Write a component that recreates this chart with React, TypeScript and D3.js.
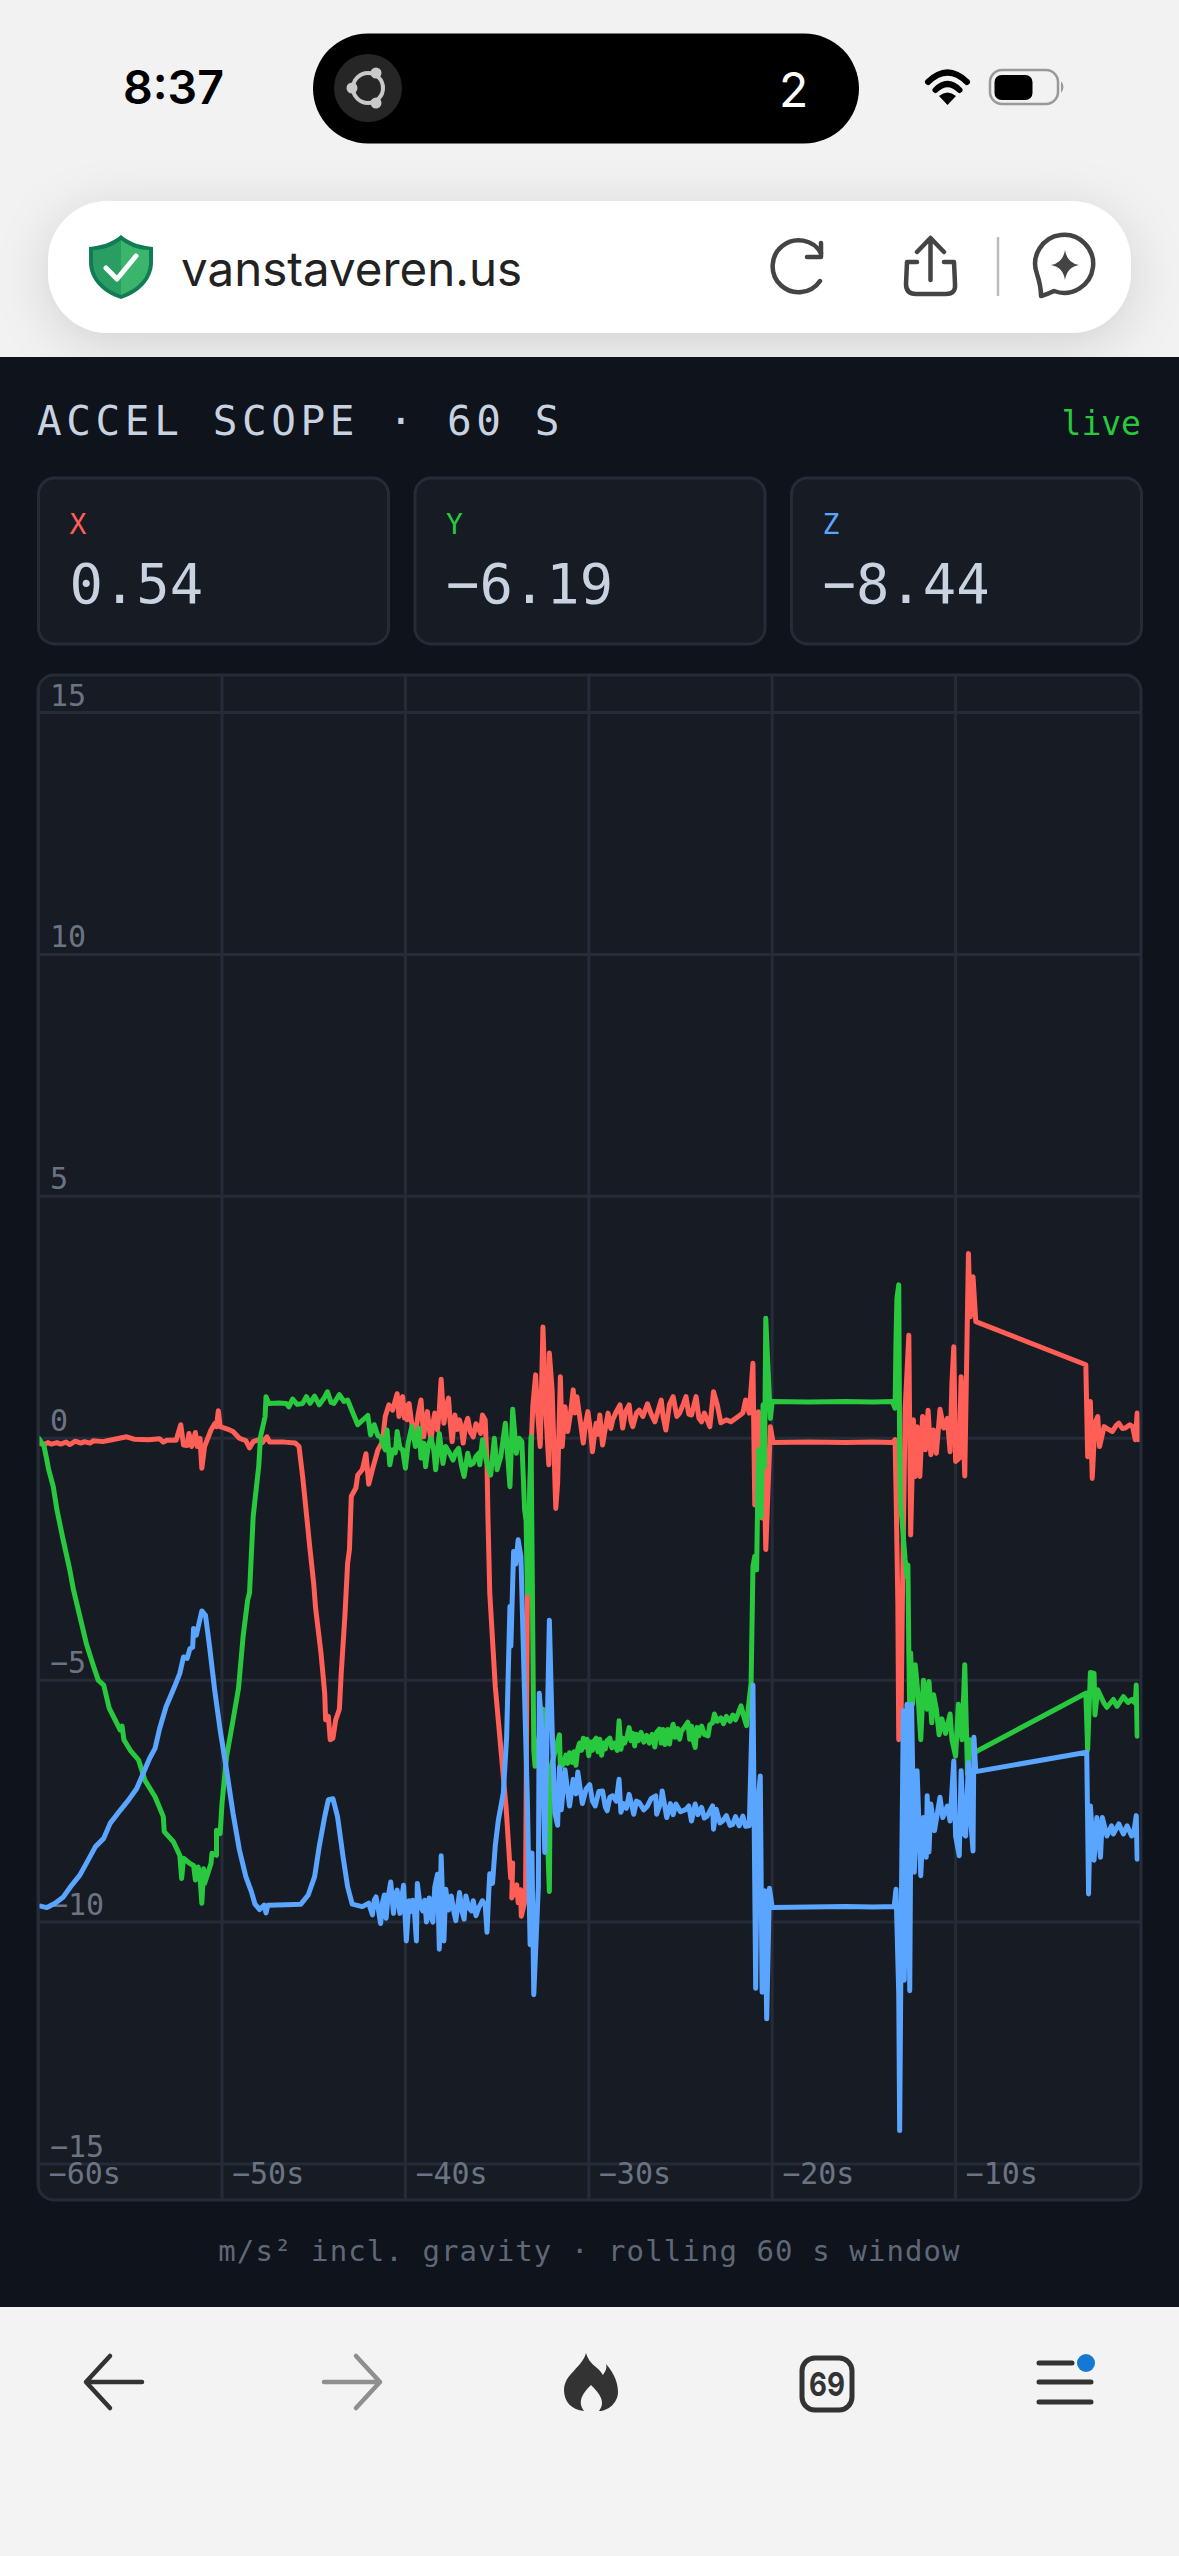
import * as React from 'react';
import * as d3 from 'd3';

type Sample = [number, number];

const yTicks = [15, 10, 5, 0, -5, -10, -15];
const xTicks = [-60, -50, -40, -30, -20, -10];
const readouts = [
  { axis: 'X', value: '0.54' },
  { axis: 'Y', value: '\u22126.19' },
  { axis: 'Z', value: '\u22128.44' },
];

// [seconds, m/s2]
const accelX: Sample[] = [
  [-60, -0.1], [-59.7, -0.13], [-59.5, -0.09], [-59.3, -0.12], [-59, -0.09], [-58.8, -0.12], [-58.5, -0.08], [-58.3, -0.13], [-58, -0.06], [-57.7, -0.1], [-57.5, -0.07], [-57.2, -0.1], [-57, -0.05], [-56.5, -0.07], [-56, -0.03], [-55.2, 0.03], [-54.8, -0.02], [-54, -0.03], [-53.4, -0.01], [-53.2, -0.08], [-53, -0.04], [-52.5, -0.04],
  [-52.25, 0.28], [-52.1, -0.14], [-51.9, -0.15], [-51.8, 0.1], [-51.65, -0.17], [-51.45, 0.12], [-51.35, -0.17], [-51.2, 0], [-51.1, -0.62], [-50.95, -0.17], [-50.6, 0.17], [-50.4, 0.3], [-50.3, 0.24], [-50.2, 0.57], [-50.1, 0.24],
  [-49.7, 0.19], [-49.4, 0.14], [-49.05, 0], [-48.7, -0.05], [-48.5, -0.2], [-48.3, -0.07], [-48, -0.03], [-47.8, -0.09], [-47.55, 0.03], [-47.4, -0.08], [-46.6, -0.08], [-46, -0.1], [-45.8, -0.17],
  [-45.6, -0.8], [-45.4, -1.55], [-45.2, -2.3], [-45, -3], [-44.9, -3.5], [-44.6, -4.45], [-44.4, -5.27], [-44.35, -5.82], [-44.2, -5.75], [-44.1, -6.23], [-43.95, -6.2], [-43.8, -5.82], [-43.6, -5.6], [-43.5, -4.86], [-43.3, -3.68], [-43.15, -2.58], [-43.05, -2.3], [-42.95, -1.2],
  [-42.7, -1.03], [-42.6, -0.76], [-42.35, -0.65], [-42.15, -0.32], [-42, -0.95], [-41.8, -0.65], [-41.5, -0.24], [-41.25, -0.07], [-41.1, 0.45], [-40.9, 0.69], [-40.7, 0.58], [-40.45, 0.92], [-40.35, 0.45], [-40.25, 0.78], [-40.15, 0.86], [-40.05, 0.42], [-39.95, 0.68], [-39.9, 0.38],
  [-39.8, 0.72], [-39.65, 0.3], [-39.5, -0.03], [-39.3, 0.5], [-39.15, 0.79], [-39, 0.03], [-38.9, 0.38], [-38.8, 0.55], [-38.7, 0.2], [-38.6, -0.03], [-38.5, 0.3], [-38.4, 0.52], [-38.25, 0.17], [-38.15, 0.6], [-38.05, 1.22], [-37.9, 0.31], [-37.8, 0.6], [-37.65, 0.83], [-37.55, 0.3], [-37.45, -0.07], [-37.3, 0.48], [-37.18, 0.18], [-37.05, 0.38], [-36.95, 0.22], [-36.85, -0.1], [-36.7, 0.3], [-36.6, 0.41], [-36.45, 0.12], [-36.3, 0.03], [-36.15, 0.3], [-36.05, 0.24], [-35.9, 0.1], [-35.8, 0.48], [-35.65, 0.38],
  [-35.55, -0.52], [-35.5, -1.62], [-35.4, -3.2], [-35.1, -5.13], [-34.75, -6.61], [-34.5, -7.68], [-34.26, -9.09], [-34.15, -8.78], [-34.2, -9.5], [-33.93, -9.23], [-33.85, -9.6], [-33.72, -9.33], [-33.68, -9.88], [-33.45, -9.5], [-33.35, -3.34], [-33.15, -0.24],
  [-33.05, 0.69], [-32.9, 1.31], [-32.8, 0.58], [-32.65, -0.17], [-32.5, 2.3], [-32.35, 0.58], [-32.18, -0.55], [-32.15, 1.76], [-32, 1], [-31.8, -1.45], [-31.7, -0.93], [-31.55, 1.27], [-31.45, -0.17], [-31.3, 0.65], [-31.15, 0.14], [-31, 0.5], [-30.85, 1], [-30.75, 0.52], [-30.65, 0.86], [-30.5, 0.45], [-30.4, 0.18], [-30.3, -0.1], [-30.18, 0.3], [-30.05, 0.55], [-29.9, 0.12], [-29.8, -0.28], [-29.7, 0.05], [-29.6, 0.31], [-29.5, 0.08], [-29.4, 0.48], [-29.25, -0.14], [-29.1, 0.2],
  [-28.95, 0.52], [-28.8, 0.2], [-28.7, 0.38], [-28.5, 0.55], [-28.3, 0.69], [-28.15, 0.21], [-28, 0.55], [-27.8, 0.69], [-27.7, 0.35], [-27.6, 0.24], [-27.4, 0.52], [-27.25, 0.58], [-27.05, 0.45], [-26.8, 0.71], [-26.6, 0.5], [-26.4, 0.34], [-26.2, 0.6], [-26.05, 0.79], [-25.95, 0.45], [-25.8, 0.17], [-25.6, 0.7], [-25.4, 0.86], [-25.2, 0.45], [-25.05, 0.52], [-24.85, 0.7], [-24.7, 0.86], [-24.55, 0.5], [-24.4, 0.48], [-24.15, 0.86], [-24, 0.42], [-23.85, 0.34], [-23.7, 0.52], [-23.55, 0.38], [-23.4, 0.24], [-23.2, 0.96], [-23, 0.7], [-22.8, 0.32], [-22.5, 0.38], [-22.25, 0.34], [-22, 0.41], [-21.6, 0.52], [-21.45, 0.79], [-21.25, 0.52],
  [-21.05, 1.55], [-20.95, -1.38], [-20.75, 0.55], [-20.55, -1.65], [-20.45, -0.38], [-20.35, -2.3], [-20.1, 0.24], [-19.95, -0.09], [-18, -0.08], [-16, -0.09], [-14.5, -0.08], [-13.45, -0.09], [-13.3, -0.03],
  [-13.23, -1.48], [-13.15, -3.4], [-13.1, -6.23], [-13.02, -3.3], [-12.98, -6], [-12.9, -3.34], [-12.75, 0.62], [-12.55, 2.13], [-12.45, -2], [-12.3, 0.38], [-12.2, -0.79], [-12.1, 0.24], [-11.95, -0.79], [-11.8, 0.45], [-11.65, -0.24], [-11.5, 0.58], [-11.35, -0.34], [-11.2, 0.17], [-11.05, -0.31], [-10.85, 0.6], [-10.65, 0.21], [-10.45, 0.41], [-10.3, -0.28], [-10.2, 1.14], [-10.1, 1.89], [-10, -0.48], [-9.8, -0.41], [-9.7, 1.27], [-9.5, -0.78], [-9.3, 3.82], [-9.2, 2.51], [-9.05, 3.34], [-8.9, 2.41],
  [-2.9, 1.52], [-2.8, -0.38], [-2.65, 0.76], [-2.55, -0.83], [-2.4, 0.31], [-2.25, 0.45], [-2.15, -0.17], [-1.9, 0.24], [-1.65, 0.18], [-1.45, 0.14], [-1.25, 0.26], [-1.1, 0.31], [-0.9, 0.2], [-0.75, 0.21], [-0.5, 0.28], [-0.35, 0.24], [-0.2, -0.03], [-0.1, 0.52], [-0.05, -0.03],
];

const accelY: Sample[] = [
  [-60, 0], [-59.7, -0.17], [-59.55, -0.45], [-59.45, -0.65], [-59.2, -1], [-59, -1.48], [-58.7, -2.03], [-58.3, -2.72], [-58.1, -3.13], [-57.75, -3.68], [-57.4, -4.24], [-57, -4.72], [-56.75, -5], [-56.45, -5.1], [-56.15, -5.58], [-55.55, -6.03], [-55.45, -5.95], [-55.35, -6.23], [-55, -6.45], [-54.55, -6.65], [-54.2, -7.07], [-53.65, -7.41], [-53.2, -7.82], [-53.15, -8.13], [-52.65, -8.34], [-52.3, -8.62], [-52.2, -9.1], [-52.1, -8.68],
  [-51.75, -8.79], [-51.55, -8.83], [-51.45, -9.13], [-51.3, -8.86], [-51.2, -9.07], [-51.1, -9.61], [-51, -8.9], [-50.95, -9.2], [-50.6, -8.79], [-50.55, -8.58], [-50.3, -8.62], [-50.3, -8.1], [-50.1, -8.17], [-50, -7.55], [-49.75, -6.58], [-49.4, -5.83], [-49.1, -5.17], [-48.85, -4.1], [-48.6, -3.34], [-48.5, -3.2], [-48.3, -1.62], [-48.2, -1.27], [-48, -0.59], [-47.9, 0.03], [-47.65, 0.45], [-47.6, 0.86], [-47.45, 0.72],
  [-46.9, 0.73], [-46.5, 0.72], [-46.35, 0.65], [-46.15, 0.81], [-45.9, 0.7], [-45.6, 0.72], [-45.4, 0.86], [-45.2, 0.72], [-44.95, 0.87], [-44.7, 0.69], [-44.45, 0.82], [-44.25, 0.96], [-44.05, 0.74], [-43.9, 0.72], [-43.6, 0.9], [-43.35, 0.76], [-43.15, 0.79], [-42.6, 0.28], [-42.05, 0.47], [-41.9, 0.07], [-41.7, 0.28], [-41.5, 0.05], [-41.35, 0.03], [-41.2, -0.15], [-41.1, -0.24], [-41, 0.17], [-40.85, -0.55], [-40.7, -0.24], [-40.55, -0.3], [-40.45, 0.14], [-40.3, -0.2], [-40.15, -0.24], [-40, -0.62], [-39.85, -0.1],
  [-39.65, 0.24], [-39.45, -0.17], [-39.25, 0.21], [-39.15, -0.41], [-39, -0.1], [-38.9, -0.59], [-38.75, -0.15], [-38.6, 0], [-38.45, -0.25], [-38.35, -0.65], [-38.15, 0.1], [-37.95, -0.52], [-37.8, -0.17], [-37.6, -0.3], [-37.4, -0.45], [-37.25, -0.28], [-37.1, -0.21], [-36.95, -0.55], [-36.8, -0.79], [-36.6, -0.31], [-36.45, -0.55], [-36.3, -0.52], [-36.15, -0.38], [-36, -0.31], [-35.95, -0.55], [-35.8, -0.03], [-35.6, -0.45], [-35.35, -0.76], [-35.15, 0], [-35, -0.65], [-34.8, -0.38], [-34.55, 0.31], [-34.3, -1], [-34.15, 0.6], [-33.95, -0.31], [-33.8, 0], [-33.65, -0.07], [-33.5, -1.48], [-33.42, -1.7], [-33.35, -3.2], [-33.15, 0.03],
  [-33, -6.44], [-32.93, -6.78], [-32.5, -5.6], [-32.15, -9.37], [-32.1, -6.85], [-31.6, -6.13], [-31.55, -6.8],
  [-31.4, -6.74], [-31.25, -6.55], [-31.15, -6.72], [-31.05, -6.5], [-30.9, -6.7], [-30.8, -6.48], [-30.7, -6.76], [-30.6, -6.42], [-30.5, -6.3], [-30.4, -6.45], [-30.3, -6.2], [-30.2, -6.38], [-30.1, -6.22], [-30, -6.56], [-29.9, -6.28], [-29.8, -6.45], [-29.7, -6.25], [-29.6, -6.2], [-29.5, -6.48], [-29.4, -6.22], [-29.3, -6.55], [-29.2, -6.3], [-29.1, -6.42], [-29, -6.25], [-28.85, -6.2], [-28.75, -6.4], [-28.6, -6.3], [-28.45, -6.45], [-28.35, -5.84], [-28.25, -6.43], [-28.15, -6.2], [-28.05, -6.3], [-27.9, -6.15], [-27.8, -5.98], [-27.7, -6.25], [-27.6, -6.1], [-27.5, -6.36], [-27.4, -6.12], [-27.3, -6.25], [-27.15, -6.08], [-27, -6.28], [-26.85, -6.14], [-26.7, -6.3], [-26.55, -6.12], [-26.4, -6.38], [-26.3, -6.08], [-26.15, -6.01], [-26.05, -6.3], [-25.95, -6.02], [-25.85, -6.33], [-25.7, -6.02], [-25.6, -6.32], [-25.5, -6.05], [-25.4, -5.91], [-25.3, -6.18], [-25.15, -6], [-25.05, -6.22], [-24.95, -6.05], [-24.8, -5.98], [-24.6, -5.87], [-24.5, -6.22], [-24.4, -5.95], [-24.3, -6.25], [-24.2, -6.39], [-24.1, -5.98], [-24, -6.15], [-23.85, -5.95], [-23.7, -6.12], [-23.5, -6.15], [-23.4, -5.92], [-23.25, -5.88], [-23.15, -5.7], [-23, -5.85], [-22.8, -5.78], [-22.65, -5.9], [-22.5, -5.75], [-22.3, -5.85], [-22.15, -5.72], [-22, -5.82], [-21.85, -5.68], [-21.7, -5.53], [-21.55, -5.75], [-21.4, -5.94], [-21.3, -5.56],
  [-21.15, -5.06], [-21.05, -2.65], [-20.95, -2.44], [-20.85, -2.72], [-20.75, -0.24], [-20.6, -1.62], [-20.5, 0.69], [-20.42, -0.59], [-20.35, 2.48], [-20.25, 1.62], [-20.1, 0.41], [-20, 0.76], [-18, 0.75], [-16, 0.76], [-14.5, 0.75], [-13.45, 0.76], [-13.3, 0.62],
  [-13.25, 2.03], [-13.2, 2.89], [-13.1, 3.17], [-13.05, -0.24], [-13, -1.34], [-12.75, -2.51], [-12.65, -2.86], [-12.6, -2.62], [-12.55, -4.44], [-12.5, -5.68], [-12.45, -4.44], [-12.35, -5.5], [-12.2, -4.68], [-12.05, -5.3], [-11.9, -6.23], [-11.75, -5], [-11.55, -5.6], [-11.45, -5.03], [-11.3, -5.88], [-11.2, -5.3], [-11.05, -5.6], [-10.9, -6.13], [-10.75, -5.8], [-10.55, -6.1], [-10.3, -5.7], [-10.2, -6.23], [-10, -6.57], [-9.85, -5.5], [-9.65, -6.23], [-9.5, -4.68], [-9.35, -6.95], [-9.2, -6.23], [-9.1, -6.3], [-9, -6.5],
  [-2.9, -5.27], [-2.8, -6.44], [-2.65, -4.84], [-2.45, -4.86], [-2.4, -5.72], [-2.25, -5.2], [-1.9, -5.48], [-1.75, -5.56], [-1.4, -5.4], [-1.2, -5.54], [-0.85, -5.34], [-0.6, -5.46], [-0.4, -5.4], [-0.2, -5.48], [-0.15, -5.1], [-0.1, -6.16],
];

const accelZ: Sample[] = [
  [-59.9, -9.67], [-59.55, -9.7], [-59.1, -9.61], [-58.65, -9.48], [-58.2, -9.24], [-57.75, -9.03], [-57.3, -8.72], [-56.9, -8.44], [-56.45, -8.27], [-56.1, -7.96], [-55.55, -7.69], [-55.1, -7.48], [-54.65, -7.24], [-54.3, -6.93], [-53.95, -6.62], [-53.65, -6.41], [-53.4, -6], [-53.05, -5.55], [-52.55, -5.1], [-52.3, -4.86], [-52.1, -4.52], [-51.9, -4.55], [-51.75, -4.35], [-51.6, -4.32], [-51.55, -3.93], [-51.4, -4.07], [-51.3, -3.9], [-51.1, -3.57], [-50.9, -3.66], [-50.7, -4.24], [-50.4, -5.2], [-50.1, -6.03], [-49.75, -6.86], [-49.4, -7.75], [-49.05, -8.51], [-48.7, -9.06], [-48.4, -9.37], [-48.2, -9.63], [-47.95, -9.74], [-47.7, -9.65], [-47.6, -9.81], [-47.5, -9.65], [-46.5, -9.64], [-45.7, -9.63], [-45.3, -9.44], [-44.95, -9.06], [-44.7, -8.44], [-44.4, -7.82], [-44.2, -7.47], [-43.95, -7.45], [-43.7, -7.82], [-43.4, -8.65], [-43.15, -9.27], [-42.9, -9.63], [-42.35, -9.68], [-42, -9.61],
  [-41.8, -9.85], [-41.7, -9.55], [-41.6, -9.48], [-41.45, -9.8], [-41.35, -10.03], [-41.25, -9.6], [-41.15, -9.44], [-41.05, -9.92], [-40.95, -9.5], [-40.8, -9.17], [-40.65, -9.82], [-40.55, -9.45], [-40.45, -9.34], [-40.3, -9.82], [-40.2, -9.5], [-40.1, -9.24], [-39.95, -10.39], [-39.8, -9.56], [-39.7, -9.78], [-39.6, -9.55], [-39.5, -9.82], [-39.4, -10.39], [-39.35, -9.2], [-39.2, -9.65], [-39.05, -9.77], [-38.95, -9.55], [-38.85, -10], [-38.7, -9.5], [-38.6, -9.9], [-38.5, -10], [-38.4, -9.28], [-38.25, -9.01], [-38.15, -10.56], [-38.05, -8.63], [-37.9, -10.39], [-37.8, -9.32], [-37.65, -9.75], [-37.5, -9.46], [-37.35, -9.8], [-37.25, -9.97], [-37.05, -9.39], [-36.9, -9.8], [-36.8, -9.94], [-36.7, -9.46], [-36.55, -9.7], [-36.4, -9.77], [-36.3, -9.56], [-36.15, -9.87], [-36, -9.7], [-35.8, -9.56], [-35.65, -9.65], [-35.55, -10.21], [-35.45, -9.35], [-35.4, -9], [-35.25, -9.2], [-35.1, -8.42],
  [-34.93, -7.89], [-34.66, -7.33], [-34.48, -6.17], [-34.3, -3.48], [-34.25, -4.3], [-34.1, -2.34], [-33.98, -2.6], [-33.85, -2.1], [-33.7, -2.45], [-33.5, -5.34], [-33.35, -7.47], [-33.2, -10.47], [-33.1, -8.57], [-33, -11.5], [-32.75, -9.26], [-32.7, -5.27], [-32.55, -6.03], [-32.4, -8.56], [-32.15, -3.76], [-32, -6], [-31.85, -7.75], [-31.7, -8], [-31.6, -6.8], [-31.5, -7.68], [-31.3, -6.85], [-31.15, -7.3], [-31.05, -7.6], [-30.85, -7.05], [-30.7, -7.35], [-30.6, -6.9], [-30.45, -7.3], [-30.35, -7.55], [-30.15, -7.25], [-29.95, -7.16], [-29.8, -7.5], [-29.65, -7.6], [-29.45, -7.3], [-29.25, -7.29], [-29.1, -7.62], [-29, -7.7], [-28.85, -7.42], [-28.7, -7.39], [-28.5, -7.5], [-28.35, -7.05], [-28.25, -7.73], [-28.1, -7.55], [-27.95, -7.65], [-27.8, -7.36], [-27.65, -7.6], [-27.55, -7.77], [-27.4, -7.5], [-27.25, -7.53], [-27, -7.68], [-26.8, -7.6], [-26.6, -7.45], [-26.35, -7.39], [-26.3, -7.77], [-26.05, -7.5], [-26, -7.29], [-25.75, -7.84], [-25.55, -7.55], [-25.4, -7.78], [-25.25, -7.56], [-25, -7.72], [-24.7, -7.67], [-24.55, -7.6], [-24.4, -7.91], [-24.2, -7.56], [-24.05, -7.78], [-23.85, -7.63], [-23.7, -7.85], [-23.55, -7.81], [-23.25, -7.6], [-23.2, -8.08], [-23.05, -7.67], [-22.85, -7.95], [-22.7, -7.91], [-22.5, -7.8], [-22.3, -8], [-22.15, -7.98], [-22, -7.82], [-21.8, -8.01], [-21.6, -7.81], [-21.45, -8.02], [-21.25, -8.01],
  [-21.05, -5.1], [-20.9, -11.37], [-20.8, -7.63], [-20.65, -6.98], [-20.55, -11.45], [-20.4, -9.35], [-20.3, -12], [-20.15, -9.3], [-20, -9.7], [-18, -9.69], [-16, -9.68], [-14.5, -9.69], [-13.35, -9.68], [-13.25, -9.32],
  [-13.1, -11.49], [-13.05, -14.31], [-12.95, -9.35], [-12.85, -5.63], [-12.8, -11.2], [-12.7, -9.1], [-12.65, -5.5], [-12.5, -11.42], [-12.4, -5.5], [-12.25, -8.97], [-12.1, -6.87], [-11.9, -9.04], [-11.75, -7.84], [-11.6, -8.66], [-11.55, -7.39], [-11.45, -8.55], [-11.35, -7.56], [-11.15, -8.11], [-10.85, -7.42], [-10.7, -7.84], [-10.45, -7.6], [-10.3, -7.91], [-10.1, -6.67], [-10, -8.22], [-9.8, -8.63], [-9.7, -6.87], [-9.55, -8.18], [-9.45, -8.22], [-9.3, -6.7], [-9.2, -7.76], [-9.05, -8.53], [-9, -6.18], [-8.9, -6.89],
  [-2.85, -6.49], [-2.75, -9.42], [-2.65, -7.6], [-2.45, -8.72], [-2.3, -7.84], [-2.1, -8.66], [-2, -7.84], [-1.75, -8.22], [-1.5, -8.01], [-1.4, -8.18], [-1.1, -7.97], [-0.85, -8.18], [-0.65, -8.01], [-0.4, -8.22], [-0.3, -8.18], [-0.15, -7.8], [-0.1, -8.7],
];

const series = [
  { name: 'X', color: '#ff5f56', samples: accelX },
  { name: 'Y', color: '#28c93f', samples: accelY },
  { name: 'Z', color: '#5aa5ff', samples: accelZ },
];
const axisColors: Record<string, string> = { X: '#ff5f56', Y: '#28c93f', Z: '#5aa5ff' };

const MONO = '"DejaVu Sans Mono", "Liberation Mono", monospace';
const SANS = 'Inter, Roboto, sans-serif';
const GRID = '#252c38';
const DARK_ICON = '#333333';

const frame = { left: 38, right: 1141, top: 675, bottom: 2200 };

const App: React.FC = () => {
  const x = d3.scaleLinear().domain([-60, 0]).range([38.6, 1139]);
  const y = d3.scaleLinear().domain([15, -15]).range([712.5, 2164]);
  const line = d3.line<Sample>().x((d) => x(d[0])).y((d) => y(d[1]));

  return (
    <svg
      width={1179}
      height={2556}
      viewBox="0 0 1179 2556"
      style={{ position: 'absolute', left: 0, top: 0, display: 'block' }}
    >
      <defs>
        <filter id="barShadow" x="-10%" y="-40%" width="120%" height="190%">
          <feDropShadow dx="0" dy="10" stdDeviation="26" floodColor="#000" floodOpacity="0.14" />
        </filter>
        <clipPath id="plotClip">
          <rect x={frame.left} y={frame.top} width={frame.right - frame.left} height={frame.bottom - frame.top} rx={16} />
        </clipPath>
      </defs>

      <rect width={1179} height={357} fill="#f2f2f2" />

      {/* status bar */}
      <text x={123} y={104} fontFamily={SANS} fontSize={46.5} fontWeight={600} fill="#000">8:37</text>
      <rect x={313} y={33.5} width={546} height={110} rx={55} fill="#000" />
      <circle cx={368} cy={88} r={34} fill="#262626" />
      <g fill="none" stroke="#c9c9c9" strokeWidth={4}>
        <circle cx={368} cy={88} r={15} />
      </g>
      <g fill="#c9c9c9">
        <circle cx={352} cy={88} r={5.5} />
        <circle cx={376} cy={73} r={5.5} />
        <circle cx={376} cy={103} r={5.5} />
      </g>
      <text x={779} y={107} fontFamily={SANS} fontSize={48} fill="#fff">2</text>
      <g fill="none" stroke="#000" strokeWidth={6} strokeLinecap="round">
        <path d="M928 82 Q947.5 63 967 82" />
        <path d="M935.5 90 Q947.5 78 959.5 90" />
      </g>
      <path d="M939 96 Q947.5 89 956 96 L947.5 105 Z" fill="#000" />
      <rect x={990} y={70} width={68} height={34} rx={12} fill="none" stroke="#999" strokeWidth={2.5} />
      <rect x={994.5} y={75} width={38} height={25} rx={7} fill="#000" />
      <path d="M1061 81 Q1066 87 1061 93 Z" fill="#999" />

      {/* url bar */}
      <rect x={48} y={201} width={1083} height={132} rx={60} fill="#fff" filter="url(#barShadow)" />
      <path d="M121 235 C130 243 142 246 153 247 L153 262 C153 280 139 293 121 299 C103 293 89 280 89 262 L89 247 C100 246 112 243 121 235 Z" fill="#127a54" />
      <path d="M121 240 C130 247 140 250 149 250 L149 262 C149 278 137 289 121 295 Z" fill="#3cb56c" />
      <path d="M121 240 C112 247 102 250 93 250 L93 262 C93 278 105 289 121 295 Z" fill="#2a9d63" />
      <path d="M106 268 L117 279 L136 256" fill="none" stroke="#fff" strokeWidth={5} strokeLinecap="round" strokeLinejoin="round" />
      <text x={181} y={286} fontFamily={SANS} fontSize={47.5} fill="#222">vanstaveren.us</text>
      <g fill="none" stroke="#444" strokeWidth={4.5} strokeLinecap="round" strokeLinejoin="round">
        <path d="M821 253 A26 26 0 1 0 820 281" />
        <path d="M821 243 L821 257 L807 257" />
        <path d="M930.5 280 L930.5 239 M917 252 L930.5 238 L944 252" />
        <path d="M917 262 L907 262 L906 284 Q906 294 916 294 L946 294 Q956 294 955 284 L954 262 L944 262" />
        <path d="M1041 296 Q1048 294 1054 291 A29 29 0 1 0 1037 274 Q1041 286 1041 296 Z" />
      </g>
      <path d="M998 237 L998 296" stroke="#bbb" strokeWidth={2.5} />
      <path d="M1065 250 Q1067 263 1079 265 Q1067 267 1065 280 Q1063 267 1051 265 Q1063 263 1065 250 Z" fill="#444" />

      {/* scope panel */}
      <rect y={357} width={1179} height={1950} fill="#0f131b" />
      <text x={37} y={435} fontFamily={MONO} fontSize={41} letterSpacing={4.6} fill="#c8d2e0">ACCEL SCOPE · 60 S</text>
      <text x={1141} y={435} textAnchor="end" fontFamily={MONO} fontSize={33} fill="#28c93f">live</text>

      {readouts.map((d, i) => {
        const cardX = 38.5 + i * 376.5;
        return (
          <g key={d.axis}>
            <rect x={cardX} y={478} width={350} height={166} rx={16} fill="#171b24" stroke={GRID} strokeWidth={3} />
            <text x={cardX + 31} y={534} fontFamily={MONO} fontSize={28} fill={axisColors[d.axis]}>{d.axis}</text>
            <text x={cardX + 31} y={603} fontFamily={MONO} fontSize={55.5} fill="#c8d2e0">{d.value}</text>
          </g>
        );
      })}

      {/* plot */}
      <rect x={frame.left} y={frame.top} width={frame.right - frame.left} height={frame.bottom - frame.top} rx={16} fill="#171b24" />
      <g clipPath="url(#plotClip)">
        {yTicks.map((t) => (
          <line key={t} x1={frame.left} x2={frame.right} y1={y(t)} y2={y(t)} stroke={GRID} strokeWidth={3} />
        ))}
        {xTicks.map((t) => (
          <line key={t} x1={x(t)} x2={x(t)} y1={frame.top} y2={frame.bottom} stroke={GRID} strokeWidth={3} />
        ))}
        {yTicks.map((t) => (
          <text key={t} x={50} y={y(t) - 7} fontFamily={MONO} fontSize={30} fill="#6b7482">
            {String(t).replace('-', '\u2212')}
          </text>
        ))}
        {xTicks.map((t) => (
          <text key={t} x={x(t) + 10} y={2184} fontFamily={MONO} fontSize={30} fill="#6b7482">
            {`\u2212${Math.abs(t)}s`}
          </text>
        ))}
        {series.map((s) => (
          <path
            key={s.name}
            d={line(s.samples) || ''}
            fill="none"
            stroke={s.color}
            strokeWidth={5}
            strokeLinejoin="round"
            strokeLinecap="round"
          />
        ))}
      </g>
      <rect x={frame.left} y={frame.top} width={frame.right - frame.left} height={frame.bottom - frame.top} rx={16} fill="none" stroke={GRID} strokeWidth={3} />

      <text x={589.5} y={2261} textAnchor="middle" fontFamily={MONO} fontSize={29} letterSpacing={1.1} fill="#5f6876">
        m/s² incl. gravity · rolling 60 s window
      </text>

      {/* bottom toolbar */}
      <rect y={2307} width={1179} height={249} fill="#f3f3f3" />
      <g fill="none" strokeWidth={4.5} strokeLinecap="round" strokeLinejoin="round">
        <path d="M142 2382 L86 2382 M110 2356 L86 2382 L110 2408" stroke={DARK_ICON} />
        <path d="M324 2382 L380 2382 M356 2356 L380 2382 L356 2408" stroke="#8f8f8f" />
        <rect x={802} y={2358} width={50} height={52} rx={13} stroke={DARK_ICON} strokeWidth={5} />
        <path d="M1039 2363 L1072 2363 M1039 2382 L1091 2382 M1039 2402 L1091 2402" stroke={DARK_ICON} strokeWidth={5} />
      </g>
      <path
        d="M586 2353 C590 2366 598 2366 603 2375 C606 2370 607 2368 606 2364 C615 2374 618 2384 618 2392 C618 2403 608 2411 599 2411 C606 2402 600 2394 591 2385 C582 2394 577 2402 584 2411 C572 2410 564 2402 564 2390 C564 2374 582 2368 586 2353 Z"
        fill={DARK_ICON}
      />
      <text x={827} y={2396} textAnchor="middle" fontFamily={SANS} fontSize={33} fontWeight={700} fill={DARK_ICON} textLength={36} lengthAdjust="spacingAndGlyphs">69</text>
      <circle cx={1086} cy={2363} r={9} fill="#1578d4" />
    </svg>
  );
};

export default App;
